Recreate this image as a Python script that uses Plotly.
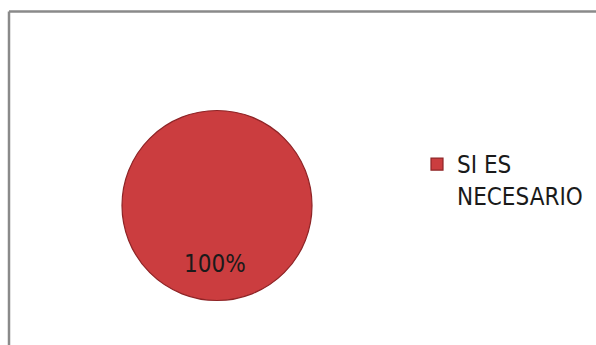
import plotly.graph_objects as go

# Survey answer shares
labels = ["SI ES<br>NECESARIO"]
values = [100]

W, H = 596, 345
total = sum(values)
pct_text = f"{round(values[0] / total * 100)}%"

FONT = "DejaVu Sans Condensed, Liberation Sans Narrow, Arial Narrow, Arial"

fig = go.Figure()
fig.add_trace(go.Pie(
    labels=labels,
    values=values,
    sort=False,
    textinfo="none",
    hoverinfo="label+percent",
    marker=dict(colors=["#CB3D3F"], line=dict(color="#8E2426", width=1.2)),
    domain=dict(x=[122 / W, 312 / W], y=[(H - 301) / H, (H - 110) / H]),
    showlegend=True,
))

# Percentage label placed in the lower part of the disc
fig.add_annotation(
    x=215 / W, y=(H - 280) / H, xref="paper", yref="paper",
    text=pct_text, showarrow=False,
    font=dict(family=FONT, size=24, color="#1a1a1a"),
)

# Chart-area frame (left and top edges visible)
fig.add_shape(type="line", xref="paper", yref="paper",
              x0=9 / W, x1=9 / W, y0=-0.05, y1=(H - 11.5) / H,
              line=dict(color="#8a8a8a", width=2.5))
fig.add_shape(type="line", xref="paper", yref="paper",
              x0=9 / W, x1=1.05, y0=(H - 11.5) / H, y1=(H - 11.5) / H,
              line=dict(color="#8a8a8a", width=2.5))

fig.update_layout(
    width=W, height=H,
    margin=dict(l=0, r=0, t=0, b=0),
    paper_bgcolor="white",
    plot_bgcolor="white",
    legend=dict(
        x=417 / W, y=(H - 142) / H, xanchor="left", yanchor="top",
        valign="top",
        font=dict(family=FONT, size=24, color="#1a1a1a"),
        bgcolor="rgba(0,0,0,0)",
    ),
)

fig.write_html("out.html")
